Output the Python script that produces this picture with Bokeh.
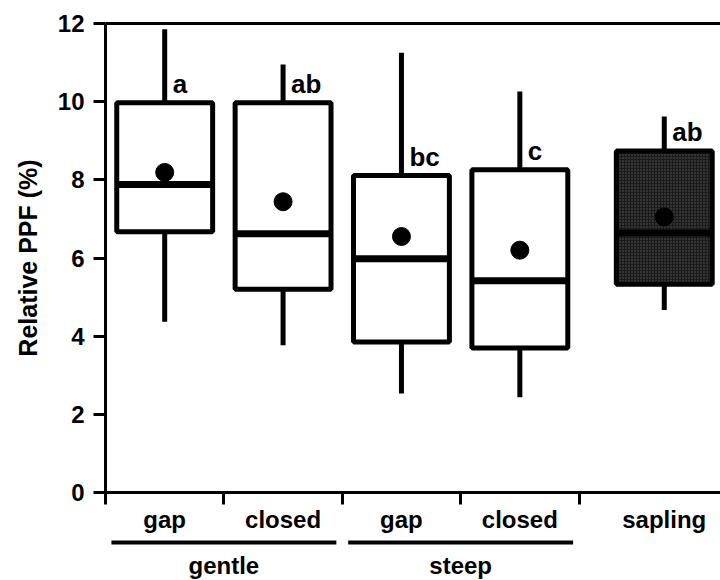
from bokeh.plotting import figure
from bokeh.layouts import column
from bokeh.models import Range1d, LinearAxis, FixedTicker, ColumnDataSource
from bokeh.core.properties import value
from bokeh.embed import file_html
from bokeh.resources import INLINE

# ---- data ----
categories = ["gap", "closed", "gap", "closed", "sapling"]
groups = ["gentle", "steep"]
whisker_hi = [11.85, 10.95, 11.25, 10.26, 9.62]
q3 = [9.97, 9.97, 8.11, 8.26, 8.74]
median = [7.88, 6.62, 5.98, 5.42, 6.64]
q1 = [6.67, 5.20, 3.85, 3.70, 5.33]
whisker_lo = [4.37, 3.77, 2.53, 2.44, 4.67]
mean = [8.19, 7.44, 6.55, 6.20, 7.05]
letters = ["a", "ab", "bc", "c", "ab"]
y_ticks = [0, 2, 4, 6, 8, 10, 12]
x_ticks = [0, 1, 2, 3, 4]

# ---- layout (positions on the x scale) ----
x_pos = [0.5, 1.5, 2.5, 3.5, 4.72]
group_lo = [0, 2]
group_hi = [2, 4]
group_center = [1, 3]

FONT = "Liberation Sans"
FS = "24px"
box_fill = ["white", "white", "white", "white", "#1b1b1b"]
box_hatch = [" ", " ", " ", " ", "dot"]
letter_lift = 0.48  # letters sit just above the box top

xr = Range1d(0, 5.195)
p = figure(width=720, height=536, output_backend="svg", toolbar_location=None,
           x_range=xr, y_range=Range1d(0, 12),
           min_border_left=105, min_border_right=0, min_border_top=23,
           min_border_bottom=44, x_axis_location=None, y_axis_location=None)
p.outline_line_color = None
p.grid.visible = False

yax = LinearAxis(ticker=FixedTicker(ticks=y_ticks),
                 axis_line_width=3, major_tick_line_width=3,
                 major_tick_out=12, major_tick_in=0,
                 minor_tick_line_color=None, major_label_standoff=9,
                 major_label_text_font=FONT, major_label_text_font_style="bold",
                 major_label_text_font_size=FS, major_label_text_color="black",
                 axis_label="Relative PPF (%)", axis_label_standoff=13,
                 axis_label_text_font=FONT, axis_label_text_font_style="bold",
                 axis_label_text_font_size="25px", axis_label_text_color="black")
p.add_layout(yax, "left")

top = LinearAxis(ticker=FixedTicker(ticks=[]), axis_line_width=3,
                 major_tick_line_color=None, minor_tick_line_color=None)
p.add_layout(top, "above")

xax = LinearAxis(ticker=FixedTicker(ticks=x_pos, minor_ticks=x_ticks),
                 axis_line_width=3, major_tick_line_color=None,
                 major_tick_out=0, major_tick_in=0,
                 minor_tick_line_width=3, minor_tick_line_color="black",
                 minor_tick_in=0, minor_tick_out=12,
                 major_label_overrides={x: c for x, c in zip(x_pos, categories)},
                 major_label_standoff=1, major_label_text_font=FONT,
                 major_label_text_font_style="bold", major_label_text_font_size=FS,
                 major_label_text_color="black")
p.add_layout(xax, "below")

src = ColumnDataSource(dict(x=x_pos, q1=q1, q3=q3, med=median, lo=whisker_lo,
                            hi=whisker_hi, mean=mean, letter=letters,
                            letter_y=[v + letter_lift for v in q3],
                            fill=box_fill, hatch=box_hatch))

p.segment(x0="x", y0="lo", x1="x", y1="q1", line_width=5, line_color="black", source=src)
p.segment(x0="x", y0="q3", x1="x", y1="hi", line_width=5, line_color="black", source=src)
p.vbar(x="x", width=0.81, bottom="q1", top="q3", fill_color="fill",
       line_color="black", line_width=5, hatch_pattern="hatch",
       hatch_color="#5a5a5a", hatch_scale=3, hatch_weight=1, source=src)
p.rect(x="x", y="med", width=0.81, height=7, height_units="screen",
       fill_color="black", line_color=None, source=src)
p.scatter(x="x", y="mean", size=18, color="black", source=src)

p.text(x="x", y="letter_y", text="letter", x_offset=8,
       text_font=value(FONT), text_font_style="bold", text_font_size="26px",
       text_baseline="alphabetic", text_align="left", text_color="black", source=src)

# ---- group strip below the axis ----
p2 = figure(width=720, height=44, output_backend="svg", toolbar_location=None,
            x_range=xr, y_range=Range1d(0, 44),
            min_border_left=105, min_border_right=0, min_border_top=0,
            min_border_bottom=0, x_axis_location=None, y_axis_location=None)
p2.outline_line_color = None
p2.grid.visible = False

inset = 0.05
p2.segment(x0=[g + inset for g in group_lo], y0=38,
           x1=[g - inset for g in group_hi], y1=38,
           line_width=4, line_color="black")
p2.text(x=group_center, y=15, text=groups, text_font=value(FONT),
        text_font_style="bold", text_font_size=FS, text_baseline="alphabetic",
        text_align="center", text_color="black")

layout = column(p, p2, spacing=0)
open("out.html", "w").write(file_html(layout, INLINE))
